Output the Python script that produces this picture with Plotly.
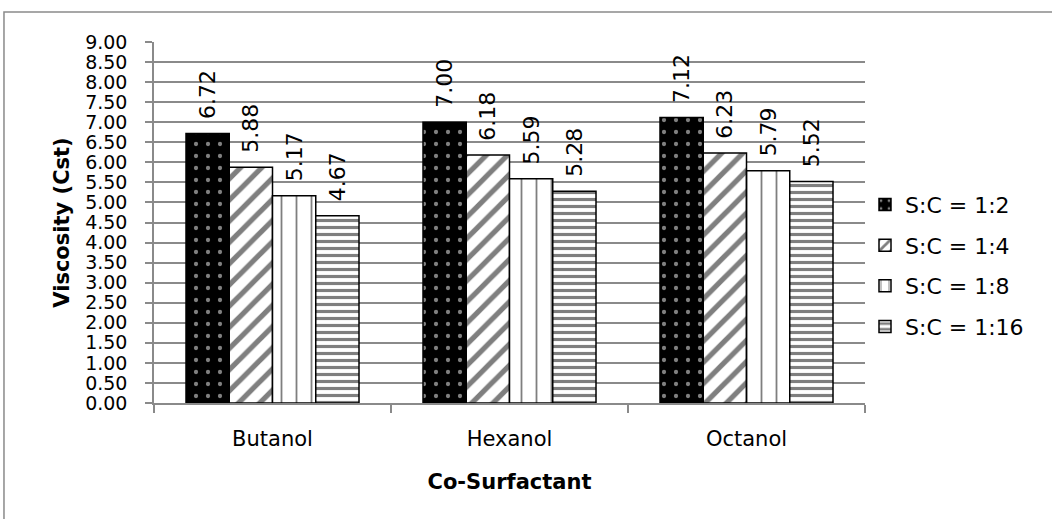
import plotly.graph_objects as go

categories = ["Butanol", "Hexanol", "Octanol"]
series_names = ["S:C = 1:2", "S:C = 1:4", "S:C = 1:8", "S:C = 1:16"]
sc_1_2 = [6.72, 7.00, 7.12]
sc_1_4 = [5.88, 6.18, 6.23]
sc_1_8 = [5.17, 5.59, 5.79]
sc_1_16 = [4.67, 5.28, 5.52]
y_ticks = [i * 0.5 for i in range(19)]

FONT = "DejaVu Sans"
GREY = "#8a8a8a"

patterns = [
    dict(shape=".", bgcolor="black", fgcolor="white", size=12, solidity=0.1),
    dict(shape="/", bgcolor="white", fgcolor="black", size=15, solidity=0.35),
    dict(shape="|", bgcolor="white", fgcolor="black", size=15, solidity=0.12),
    dict(shape="-", bgcolor="white", fgcolor="black", size=7, solidity=0.45),
]
colors = ["black", "white", "white", "white"]

fig = go.Figure()
for name, vals, pat, col in zip(series_names, [sc_1_2, sc_1_4, sc_1_8, sc_1_16], patterns, colors):
    fig.add_trace(go.Bar(
        x=categories, y=vals, name=name,
        marker=dict(color=col, pattern=pat, line=dict(color="black", width=1.5)),
        text=[f"{v:.2f}" for v in vals],
        texttemplate="\u00a0\u2009%{text}",
        textposition="outside", textangle=-90, cliponaxis=False,
        constraintext="none",
        outsidetextfont=dict(family=FONT, size=22, color="black"),
        legendgroup=name,
    ))

fig.update_layout(
    width=1052, height=519,
    margin=dict(l=154, r=187, t=42, b=116),
    paper_bgcolor="white", plot_bgcolor="white",
    barmode="group", bargap=0.27, bargroupgap=0,
    font=dict(family=FONT, size=20, color="black"),
    legend=dict(x=1.0, xanchor="left", y=0.38, yanchor="middle",
                font=dict(family=FONT, size=22), tracegroupgap=9,
                traceorder="grouped"),
    xaxis=dict(type="category", showline=True, linecolor=GREY, linewidth=1.5,
               ticks="outside", tickson="boundaries", ticklen=8, tickcolor=GREY,
               tickwidth=1.5, showgrid=False, ticklabelstandoff=16,
               title=dict(text="<b>Co-Surfactant</b>", font=dict(family=FONT, size=21), standoff=24),
               tickfont=dict(family=FONT, size=21)),
    yaxis=dict(range=[0, 9], tickvals=y_ticks, tickformat=".2f",
               showgrid=True, gridcolor=GREY, gridwidth=1.5, zeroline=False,
               showline=True, linecolor=GREY, linewidth=1.5,
               ticks="outside", ticklen=7, tickcolor=GREY, tickwidth=1.5,
               ticklabelstandoff=14,
               title=dict(text="<b>Viscosity (Cst)</b>", font=dict(family=FONT, size=21), standoff=10),
               tickfont=dict(family=FONT, size=19)),
    shapes=[dict(type="rect", xref="paper", yref="paper",
                 x0=-0.211, x1=1.27, y0=-0.33, y1=1.083,
                 line=dict(color=GREY, width=1.5), fillcolor="rgba(0,0,0,0)", layer="below")],
)

fig.write_html("out.html")
